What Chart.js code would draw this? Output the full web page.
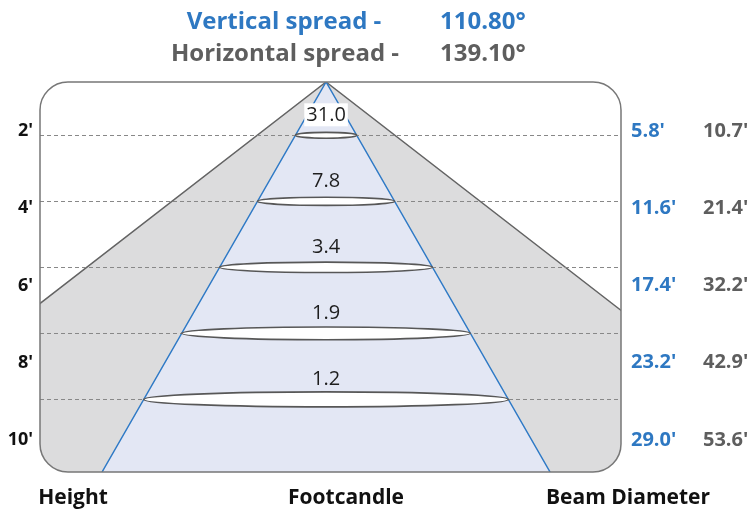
<!DOCTYPE html>
<html>
<head>
<meta charset="utf-8">
<script src="https://cdn.jsdelivr.net/npm/chart.js@4"></script>
<style>
  html, body { margin: 0; padding: 0; background: #ffffff; }
  canvas { display: block; }
</style>
</head>
<body>
<canvas id="c" width="752" height="510"></canvas>
<script>
// ---- data ----
const heights = [2, 4, 6, 8, 10];                       // mounting height (ft)
const footcandles = [31.0, 7.8, 3.4, 1.9, 1.2];
const verticalDiameters = [5.8, 11.6, 17.4, 23.2, 29.0];   // ft
const horizontalDiameters = [10.7, 21.4, 32.2, 42.9, 53.6]; // ft
const verticalSpread = 110.80;   // degrees
const horizontalSpread = 139.10; // degrees
const bottomLabels = ['Height', 'Footcandle', 'Beam Diameter'];

// ---- drawing scale set-up ----
const Y_MIN = 0.385, Y_MAX = 12.2;          // height axis (apex at top)
const LABEL_MIN = 0.731, LABEL_MAX = 10.83; // label rows
const XV = [-21.87, 22.55];                 // vertical-profile width axis (ft)
const XH = [-17.99, 18.55];                 // horizontal-profile width axis (ft)

const FONT = "'Open Sans', 'Noto Sans', 'DejaVu Sans', sans-serif";
const BLUE = '#2e78c2';
const GREY_TXT = '#5e5e5e';

const tanV = Math.tan(verticalSpread / 2 * Math.PI / 180);
const tanH = Math.tan(horizontalSpread / 2 * Math.PI / 180);
const depth = Y_MAX - Y_MIN;

const blueCone = [
  { x: -tanV * depth, y: Y_MAX },
  { x: 0, y: Y_MIN },
  { x: tanV * depth, y: Y_MAX }
];
const greyCone = [
  { x: -tanH * depth, y: Y_MAX },
  { x: 0, y: Y_MIN },
  { x: tanH * depth, y: Y_MAX }
];

function setHeightTicks(scale) {
  scale.ticks = heights.map(v => ({ value: v }));
}

function roundedPanel(ctx, a, r) {
  ctx.beginPath();
  ctx.roundRect(a.left, a.top, a.right - a.left, a.bottom - a.top, r);
}

const diagramPlugin = {
  id: 'diagram',
  beforeDatasetsDraw(chart) {
    const ctx = chart.ctx;
    ctx.save();
    roundedPanel(ctx, chart.chartArea, 28);
    ctx.clip();
  },
  afterDatasetsDraw(chart) {
    chart.ctx.restore();
  },
  afterDraw(chart) {
    const ctx = chart.ctx;
    const a = chart.chartArea;
    const xs = chart.scales.x, ys = chart.scales.y;

    // light slices (ellipses) across the vertical beam at each height
    heights.forEach((h, i) => {
      const cx = xs.getPixelForValue(0);
      const cy = ys.getPixelForValue(h);
      const rx = xs.getPixelForValue(tanV * (h - Y_MIN)) - cx;
      const ry = 2 + 0.03 * rx;
      ctx.save();
      ctx.beginPath();
      ctx.ellipse(cx, cy, rx, ry, 0, 0, Math.PI * 2);
      ctx.fillStyle = '#ffffff';
      ctx.fill();
      ctx.lineWidth = 1.6;
      ctx.strokeStyle = '#575757';
      ctx.stroke();
      ctx.restore();

      // footcandle value
      const txt = footcandles[i].toFixed(1);
      const ty = cy - 20;
      ctx.save();
      ctx.font = '400 20px ' + FONT;
      const tw = ctx.measureText(txt).width;
      const coneHalf = xs.getPixelForValue(tanV * (ys.getValueForPixel(ty) - Y_MIN)) - cx;
      if (tw / 2 + 3 > coneHalf) {
        ctx.fillStyle = '#ffffff';
        ctx.fillRect(cx - tw / 2 - 2, ty - 12, tw + 4, 23);
      }
      ctx.fillStyle = '#1e1e1e';
      ctx.textAlign = 'center';
      ctx.textBaseline = 'middle';
      ctx.fillText(txt, cx, ty);
      ctx.restore();
    });

    // panel outline
    ctx.save();
    roundedPanel(ctx, a, 28);
    ctx.lineWidth = 1.5;
    ctx.strokeStyle = '#777777';
    ctx.stroke();
    ctx.restore();

    // title
    ctx.save();
    ctx.font = '700 24px ' + FONT;
    ctx.textBaseline = 'middle';
    ctx.fillStyle = BLUE;
    ctx.textAlign = 'center';
    ctx.fillText('Vertical spread -', 284, 22);
    ctx.textAlign = 'left';
    ctx.fillText(verticalSpread.toFixed(2) + '°', 440, 22);
    ctx.fillStyle = GREY_TXT;
    ctx.textAlign = 'center';
    ctx.fillText('Horizontal spread -', 285, 54);
    ctx.textAlign = 'left';
    ctx.fillText(horizontalSpread.toFixed(2) + '°', 440, 54);

    // bottom labels
    ctx.font = '700 21px ' + FONT;
    ctx.fillStyle = '#111111';
    ctx.textAlign = 'center';
    ctx.fillText(bottomLabels[0], 73, 498);
    ctx.fillText(bottomLabels[1], 346, 498);
    ctx.fillText(bottomLabels[2], 628, 498);
    ctx.restore();
  }
};

const labelAxis = (position, color, fmt, width, padding) => ({
  type: 'linear',
  position: position,
  reverse: true,
  min: LABEL_MIN,
  max: LABEL_MAX,
  afterBuildTicks: setHeightTicks,
  afterFit: s => { s.width = width; },
  grid: { display: false, drawTicks: false },
  border: { display: false },
  ticks: {
    color: color,
    padding: padding,
    font: { family: FONT, size: position === 'left' ? 18 : 20, weight: 'bold' },
    callback: fmt
  }
});

new Chart(document.getElementById('c'), {
  type: 'scatter',
  data: {
    datasets: [
      {
        label: 'Vertical beam',
        data: blueCone,
        xAxisID: 'x',
        yAxisID: 'y',
        showLine: true,
        tension: 0,
        pointRadius: 0,
        borderColor: '#2f7ac6',
        borderWidth: 1.5,
        backgroundColor: '#e3e7f4',
        fill: { value: Y_MAX },
        order: 0
      },
      {
        label: 'Horizontal beam',
        data: greyCone,
        xAxisID: 'xh',
        yAxisID: 'y',
        showLine: true,
        tension: 0,
        pointRadius: 0,
        borderColor: '#646464',
        borderWidth: 1.5,
        backgroundColor: '#dcdcdd',
        fill: { value: Y_MAX },
        order: 1
      }
    ]
  },
  options: {
    responsive: false,
    animation: false,
    devicePixelRatio: 1,
    layout: { padding: { top: 82, bottom: 38, left: 0, right: 0 } },
    plugins: {
      legend: { display: false },
      tooltip: { enabled: false },
      title: { display: false }
    },
    scales: {
      x: { type: 'linear', min: XV[0], max: XV[1], display: false },
      xh: { type: 'linear', min: XH[0], max: XH[1], display: false },
      y: {
        type: 'linear',
        position: 'left',
        reverse: true,
        min: Y_MIN,
        max: Y_MAX,
        afterBuildTicks: setHeightTicks,
        afterFit: s => { s.width = 0; },
        ticks: { display: false },
        grid: { color: '#888888', lineWidth: 1, drawTicks: false, z: 1 },
        border: { display: false, dash: [4, 3] }
      },
      yl: labelAxis('left', '#111111', v => v + "'", 40, 7),
      yb: labelAxis('right', BLUE, (v, i) => verticalDiameters[i].toFixed(1) + "'", 82, 10),
      yg: labelAxis('right', GREY_TXT, (v, i) => horizontalDiameters[i].toFixed(1) + "'", 49, 0)
    }
  },
  plugins: [diagramPlugin]
});
</script>
</body>
</html>
